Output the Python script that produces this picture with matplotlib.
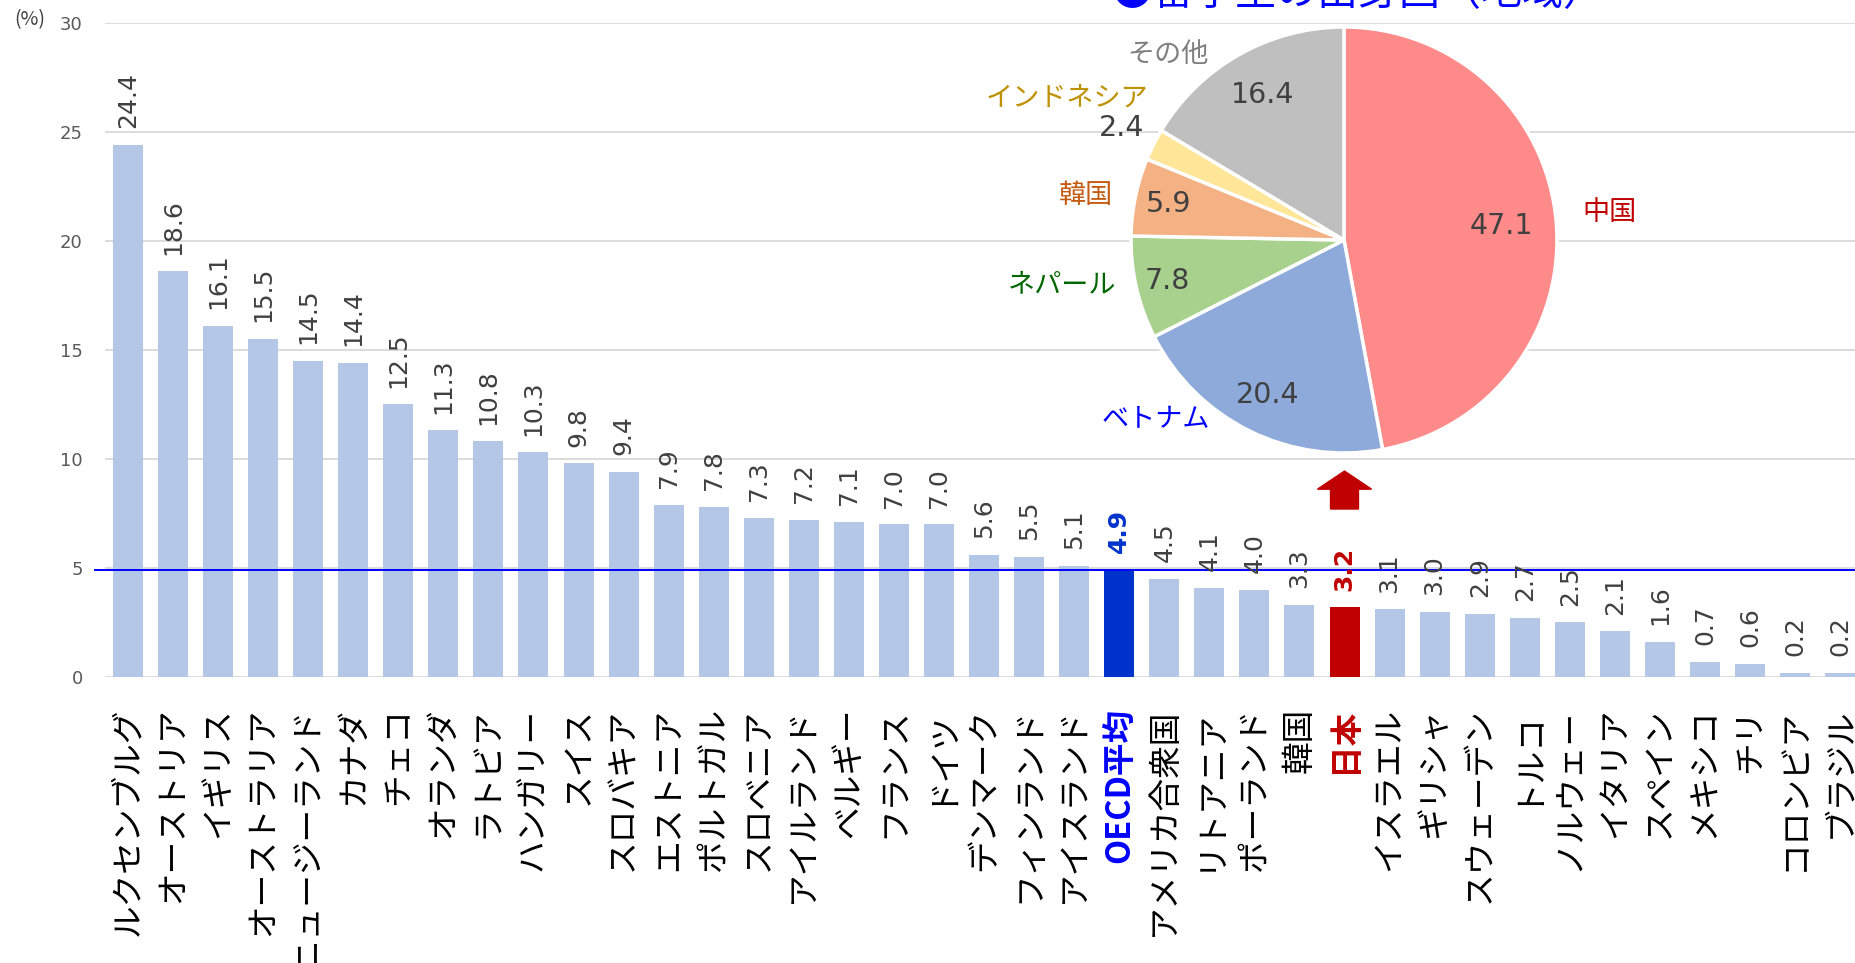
import matplotlib
matplotlib.use('Agg')
import matplotlib.pyplot as plt
from matplotlib.patches import FancyArrow
import numpy as np

plt.rcParams['font.family'] = ['Noto Sans CJK JP', 'DejaVu Sans']

# share of international students by country (%)
countries = ['ルクセンブルグ', 'オーストリア', 'イギリス', 'オーストラリア', 'ニュージーランド',
             'カナダ', 'チェコ', 'オランダ', 'ラトビア', 'ハンガリー', 'スイス', 'スロバキア',
             'エストニア', 'ポルトガル', 'スロベニア', 'アイルランド', 'ベルギー', 'フランス',
             'ドイツ', 'デンマーク', 'フィンランド', 'アイスランド', 'OECD平均', 'アメリカ合衆国',
             'リトアニア', 'ポーランド', '韓国', '日本', 'イスラエル', 'ギリシャ', 'スウェーデン',
             'トルコ', 'ノルウェー', 'イタリア', 'スペイン', 'メキシコ', 'チリ', 'コロンビア', 'ブラジル']
shares = [24.4, 18.6, 16.1, 15.5, 14.5, 14.4, 12.5, 11.3, 10.8, 10.3, 9.8, 9.4,
          7.9, 7.8, 7.3, 7.2, 7.1, 7.0, 7.0, 5.6, 5.5, 5.1, 4.9, 4.5, 4.1, 4.0,
          3.3, 3.2, 3.1, 3.0, 2.9, 2.7, 2.5, 2.1, 1.6, 0.7, 0.6, 0.2, 0.2]
oecd_avg = 4.9

# origin of international students in Japan (%)
origins = ['中国', 'ベトナム', 'ネパール', '韓国', 'インドネシア', 'その他']
origin_shares = [47.1, 20.4, 7.8, 5.9, 2.4, 16.4]
pie_title = '●留学生の出身国（地域）'

W, H = 1855, 963
fig = plt.figure(figsize=(W / 100, H / 100), dpi=100)

# --- bar chart ---
ax = fig.add_axes([105 / W, 1 - 677 / H, 1 - 105 / W, (677 - 22.5) / H])
x = np.arange(len(countries))
bar_colors = ['#B4C7E7'] * len(countries)
val_colors = ['#404040'] * len(countries)
i_oecd = countries.index('OECD平均')
i_jp = countries.index('日本')
bar_colors[i_oecd] = '#0033CC'
bar_colors[i_jp] = '#C00000'
val_colors[i_oecd] = '#0033CC'
val_colors[i_jp] = '#C00000'

ax.bar(x, shares, width=0.666, color=bar_colors, zorder=2)
ax.set_xlim(-0.51, 38.33)
ax.set_ylim(0, 30)
ax.set_yticks(range(0, 31, 5))
ax.yaxis.grid(True, color='#D9D9D9', lw=1.3)
ax.set_axisbelow(True)
for s in ax.spines.values():
    s.set_visible(False)
ax.tick_params(axis='y', length=0, pad=16, labelsize=13, labelcolor='#595959')
for lab in ax.get_yticklabels():
    lab.set_family('DejaVu Sans')

ax.set_xticks(x)
ax.set_xticklabels(countries, rotation=90, va='top', fontsize=23.5)
ax.tick_params(axis='x', length=0, pad=22)
for i, lab in enumerate(ax.get_xticklabels()):
    if i == i_oecd:
        lab.set_color('#0000FF')
        lab.set_fontweight('bold')
    elif i == i_jp:
        lab.set_color('#C00000')
        lab.set_fontweight('bold')

# OECD average line
ax.plot([-0.73, 38.33], [oecd_avg, oecd_avg], color='#0000FF', lw=1.4, zorder=3, clip_on=False)

for xi, v, c in zip(x, shares, val_colors):
    bold = 'bold' if c != '#404040' else 'normal'
    ax.annotate(f'{v:.1f}', (xi, v), xytext=(0, 12), textcoords='offset points',
                rotation=90, ha='center', va='bottom', fontsize=18, color=c,
                family='DejaVu Sans', fontweight=bold)

fig.text(30 / W, 1 - 20 / H, '(%)', ha='center', va='center', fontsize=14, color='#404040')

# red arrow from Japan up to the pie
ax.add_patch(FancyArrow(i_jp, 7.7, 0, 9.44 - 7.7, width=0.62, head_width=1.2,
                        head_length=0.83, length_includes_head=True,
                        color='#C00000', zorder=4))

# --- pie chart ---
R = 213
cx, cy = 1344, 240
pax = fig.add_axes([(cx - R) / W, 1 - (cy + R) / H, 2 * R / W, 2 * R / H])
pie_colors = ['#FF8A8A', '#8EAADB', '#A9D18E', '#F4B183', '#FFE699', '#BFBFBF']
lbl_colors = ['#C00000', '#0000FF', '#006600', '#C55A11', '#BF9000', '#7F7F7F']
wedges, _ = pax.pie(origin_shares, colors=pie_colors, startangle=90, counterclock=False,
                    wedgeprops=dict(edgecolor='white', linewidth=2.5))
pax.set_xlim(-1, 1)
pax.set_ylim(-1, 1)

val_r = [0.74, 0.81, 0.85, 0.84, 1.17, 0.78]
lbl_r = [1.255, 1.22, 1.34, 1.23, 1.46, 1.2]
lbl_dang = [0.6, -20, -4, 2, -0.5, 14]
for w, v, name, c, vr, lr, da in zip(wedges, origin_shares, origins, lbl_colors,
                                     val_r, lbl_r, lbl_dang):
    mid = np.deg2rad((w.theta1 + w.theta2) / 2)
    pax.text(vr * np.cos(mid), vr * np.sin(mid), f'{v:.1f}', ha='center', va='center',
             fontsize=20.5, color='#404040', family='DejaVu Sans')
    a = mid + np.deg2rad(da)
    pax.text(lr * np.cos(a), lr * np.sin(a), name, ha='center', va='center',
             fontsize=19.5, color=c)

fig.text((cx + 14) / W, 1 - 5 / H, pie_title, ha='center', va='baseline', fontsize=29.5,
         color='#0000FF')

fig.savefig('out.png', dpi=100)
